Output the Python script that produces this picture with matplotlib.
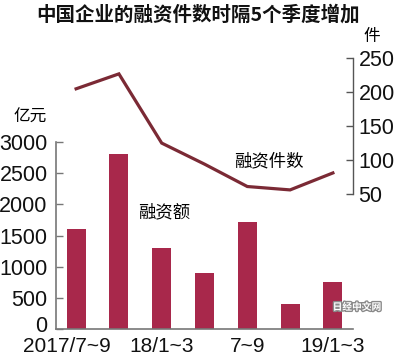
import matplotlib
matplotlib.use("Agg")
import matplotlib.pyplot as plt
import matplotlib.transforms as mtransforms
from matplotlib import patheffects

categories = ["2017/7~9", "17/10~12", "18/1~3", "4~6", "7~9", "10~12", "19/1~3"]
tick_labels = ["2017/7~9", "", "18/1~3", "", "7~9", "", "19/1~3"]
amount = [1600, 2800, 1300, 900, 1720, 400, 750]      # 亿元
deals = [205, 227, 125, 94, 61, 56, 81]                # 件

cjk = ["Noto Sans CJK SC", "DejaVu Sans"]
num = ["Liberation Sans Narrow", "Liberation Sans", "DejaVu Sans"]

fig = plt.figure(figsize=(4.0, 3.61), dpi=100)
ax = fig.add_axes([0.14, 0.0886, 0.7425, 0.750])
ax2 = ax.twinx()

x = list(range(len(categories)))
ax.bar(x, amount, width=0.44, color="#a8284b", zorder=2)
ax2.plot(x, deals, color="#7b2a35", lw=2.3, solid_joinstyle="miter", zorder=3)

ax.set_xlim(-0.47, 6.47)
ax.set_ylim(0, 4343)
ax2.set_ylim(-149, 250)

for a in (ax, ax2):
    a.spines["top"].set_visible(False)
    a.patch.set_visible(False)
ax.spines["right"].set_visible(False)
ax2.spines["left"].set_visible(False)
ax2.spines["bottom"].set_visible(False)
ax.spines["left"].set_bounds(0, 3000)
ax2.spines["right"].set_bounds(50, 250)
for s in ("left", "bottom"):
    ax.spines[s].set_color("#777777")
    ax.spines[s].set_linewidth(1.2)
ax2.spines["right"].set_color("#555555")
ax2.spines["right"].set_linewidth(1.0)

ax.set_yticks([0, 500, 1000, 1500, 2000, 2500, 3000])
ax2.set_yticks([50, 100, 150, 200, 250])
ax.tick_params(axis="y", direction="in", length=5, width=1, color="#777777", pad=6)
ax2.tick_params(axis="y", direction="in", length=5, width=1, color="#555555", pad=4)
ax.set_xticks(x)
ax.set_xticklabels(tick_labels)
ax.tick_params(axis="x", length=0, pad=6)

for lab in ax.get_yticklabels() + ax2.get_yticklabels():
    lab.set_fontfamily(num)
    lab.set_fontsize(15.5)
    lab.set_color("#111111")
for lab in ax.get_xticklabels():
    lab.set_fontfamily(num)
    lab.set_fontsize(15)
    lab.set_color("#111111")

first = ax.get_xticklabels()[0]
first.set_transform(first.get_transform() + mtransforms.ScaledTranslation(-0.09, 0, fig.dpi_scale_trans))
zero = ax.get_yticklabels()[0]
zero.set_transform(zero.get_transform() + mtransforms.ScaledTranslation(0, 0.05, fig.dpi_scale_trans))

fig.text(0.495, 0.958, "中国企业的融资件数时隔5个季度增加", ha="center", va="center",
         fontsize=14, fontweight="bold", family=cjk, color="#111111")
fig.text(30 / 400, 1 - 117 / 361, "亿元", ha="center", va="center", fontsize=12, family=cjk)
fig.text(372 / 400, 1 - 37 / 361, "件", ha="center", va="center", fontsize=12, family=cjk)
fig.text(164 / 400, 1 - 212 / 361, "融资额", ha="center", va="center", fontsize=12.5, family=cjk)
fig.text(269 / 400, 1 - 161 / 361, "融资件数", ha="center", va="center", fontsize=12.5, family=cjk)
wm = fig.text(357 / 400, 1 - 307 / 361, "日经中文网", ha="center", va="center", fontsize=7,
              fontweight="bold", family=cjk, color="white", zorder=5)
wm.set_path_effects([patheffects.withStroke(linewidth=2, foreground="#8a8a8a")])

fig.savefig("out.png", dpi=100)
